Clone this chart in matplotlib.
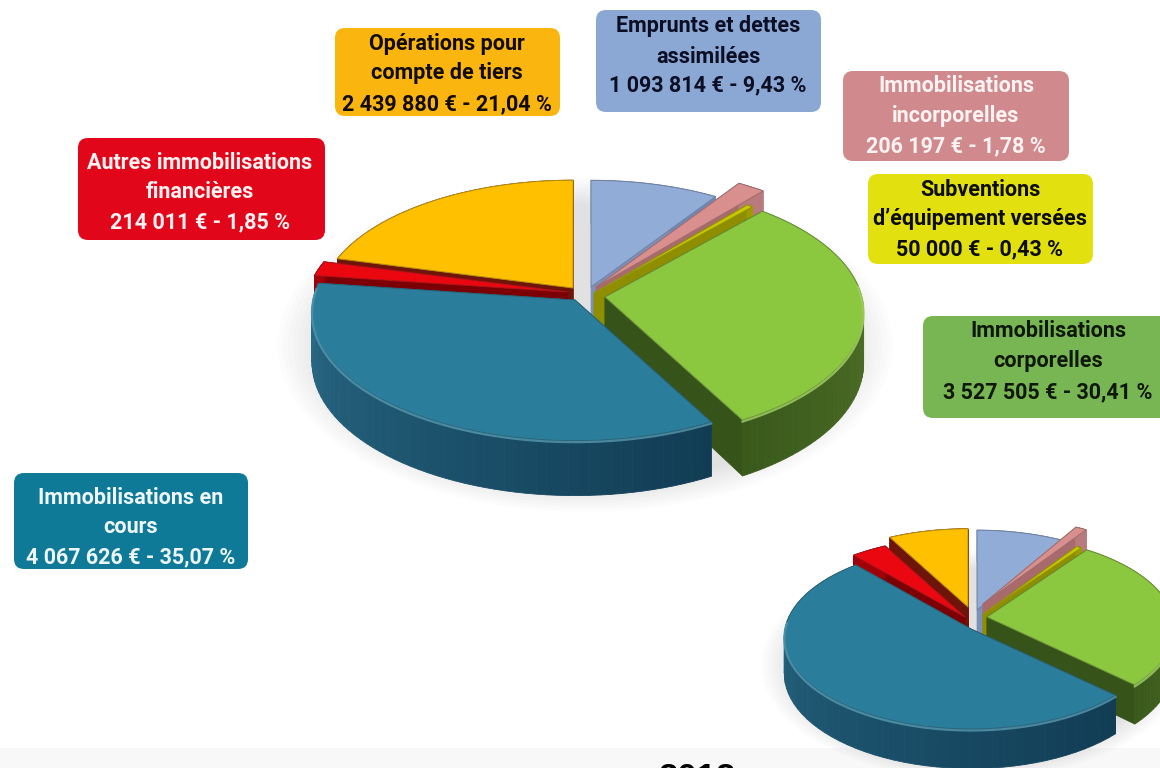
import numpy as np
import matplotlib
matplotlib.use('Agg')
import matplotlib.pyplot as plt
from matplotlib.patches import FancyBboxPatch, Polygon, Ellipse, Rectangle
from matplotlib.colors import to_rgb

# Data, clockwise from 12 o'clock
label_titles = [['Emprunts et dettes', 'assimilées'],
                ['Immobilisations', 'incorporelles'],
                ['Subventions', 'd’équipement versées'],
                ['Immobilisations', 'corporelles'],
                ['Immobilisations en', 'cours'],
                ['Autres immobilisations', 'financières'],
                ['Opérations pour', 'compte de tiers']]
amounts = [1093814, 206197, 50000, 3527505, 4067626, 214011, 2439880]
shares = [9.43, 1.78, 0.43, 30.41, 35.07, 1.85, 21.04]
# second, smaller pie (no labels in the picture, read by eye)
small_shares = [8.5, 1.0, 0.5, 27.0, 51.5, 3.5, 8.0]
year_label = '2012'

# Styles
top_colors = ['#92ACD8', '#D98F8E', '#C8C800', '#8CC740', '#2A7E9C', '#EA0710', '#FFC000']
wall_colors = ['#7C90BC', '#A86A6C', '#8E8E00', '#36541A', '#17506A', '#7A0006', '#6E1408']
side_start = ['#6F89B8', '#B87A7C', '#9C9C00', '#5F8230', '#2A6C88', '#A00008', '#6E1408']
side_end = ['#6F89B8', '#B87A7C', '#9C9C00', '#3A5A1C', '#113C54', '#A00008', '#6E1408']
box_colors = ['#8BA7D3', '#D08A8D', '#E3E010', '#78B653', '#0E7A98', '#E2061A', '#FBB50F']
text_colors = ['#0C0F24', '#FBF3F3', '#0C0C08', '#10180C', '#EEF6F8', '#FDF2F2', '#120C06']

# Layout, in pixels of the 1160x768 picture
draw_order = [6, 0, 1, 2, 3, 5, 4]
main_offsets = [(13, -8), (18, -8), (16, -2), (27, 2), (-3, 5), (-11, -3), (-5, -7)]
main_scales = [0.95, 1.09, 1.0, 0.98, 1.0, 0.99, 0.96]
small_offsets = [(4, -7), (10, -13), (10, -3), (14, 0), (-2, 12), (-8, 0), (-5, -10)]
small_scales = [1.0, 1.1, 1.0, 1.0, 1.0, 1.0, 0.98]
perspective = [0.14, 0.14, 0.14, 0.12, 0.09, 0.14, 0.14]
box_rects = [(596, 10, 821, 112), (843, 71, 1069, 161), (868, 174, 1093, 264),
             (923, 316, 1172, 418), (14, 473, 248, 569), (78, 138, 325, 240),
             (335, 28, 560, 116)]
line_ys = [(26, 57, 85), (86, 116, 146), (190, 219, 249), (331, 361, 392),
           (498, 527, 557), (163, 192, 222), (44, 73, 104)]
line_xs = [708, 956, 980, 1048, 131, 200, 447]


def project(center, rx, ry, k, u, v, z):
    s = 1.0 / (1.0 - k * v)
    return center[0] + rx * u * s, center[1] + ry * v * s + z * s


def mix(c1, c2, t):
    a, b = np.array(to_rgb(c1)), np.array(to_rgb(c2))
    return tuple(a + (b - a) * t)


def draw_pie(ax, values, center, rx, ry, depth, offsets, scales):
    edges = np.radians(np.concatenate([[0], np.cumsum(values)]) * 3.6)
    for i in draw_order:
        c = (center[0] + offsets[i][0], center[1] + offsets[i][1])
        r1, r2, k = rx * scales[i], ry * scales[i], perspective[i]
        a = np.linspace(edges[i], edges[i + 1], 60)
        u, v = np.sin(a), -np.cos(a)
        top = [project(c, r1, r2, k, x, y, 0) for x, y in zip(u, v)]
        low = [project(c, r1, r2, k, x, y, depth) for x, y in zip(u, v)]
        ap_top, ap_low = c, (c[0], c[1] + depth)
        # cut walls
        for t, l in ((top[0], low[0]), (top[-1], low[-1])):
            ax.add_patch(Polygon([ap_top, t, l, ap_low], fc=wall_colors[i], ec=wall_colors[i], lw=0.5, zorder=3))
        # outer side, shaded along the arc
        for j in range(len(a) - 1):
            t = j / (len(a) - 2)
            col = mix(side_end[i], side_start[i], t) if i == 4 else mix(side_start[i], side_end[i], t)
            ax.add_patch(Polygon([top[j], top[j + 1], low[j + 1], low[j]], fc=col, ec=col, lw=0.6, zorder=3))
        ax.add_patch(Polygon([ap_top] + top, fc=top_colors[i], ec=mix(top_colors[i], '#303030', 0.35), lw=0.7,
                             joinstyle='round', zorder=3))
        # light rim on the front edge
        pts = np.array(top)[v > -0.1]
        if len(pts) > 1:
            ax.plot(pts[:, 0], pts[:, 1] + 1.5, color=mix(top_colors[i], '#FFFFFF', 0.2), lw=1.6, alpha=0.8, zorder=3)


def shadow(ax, x, y, w, h):
    for f in np.linspace(1.06, 0.9, 10):
        ax.add_patch(Ellipse((x, y), w * f, h * f, fc='#000000', ec='none', alpha=0.012, zorder=2))


plt.rcParams['font.family'] = ['Roboto', 'Liberation Sans', 'DejaVu Sans']
fig = plt.figure(figsize=(11.6, 7.68), dpi=100)
ax = fig.add_axes([0, 0, 1, 1])
ax.set_xlim(0, 1160)
ax.set_ylim(768, 0)
ax.axis('off')

ax.add_patch(Rectangle((0, 748), 1160, 20, fc='#F8F8F8', ec='none', zorder=1))
ax.text(697, 762, year_label, ha='center', va='top', fontsize=25, fontweight='bold',
        family=['Liberation Sans'], color='#000000', zorder=2)

shadow(ax, 585, 345, 580, 315)
shadow(ax, 973, 665, 400, 215)
draw_pie(ax, shares, (578, 295), 262, 128, 50, main_offsets, main_scales)
draw_pie(ax, small_shares, (973, 617), 186, 91, 36, small_offsets, small_scales)

for i, rect in enumerate(box_rects):
    x0, y0, x1, y1 = rect
    ax.add_patch(FancyBboxPatch((x0 + 9, y0 + 9), x1 - x0 - 18, y1 - y0 - 18, boxstyle='round,pad=9,rounding_size=10',
                                fc=box_colors[i], ec='none', zorder=4, mutation_aspect=1))
    amount = f'{amounts[i]:,}'.replace(',', ' ')
    share = f'{shares[i]:.2f}'.replace('.', ',')
    lines = label_titles[i] + [f'{amount} € - {share} %']
    for txt, y in zip(lines, line_ys[i]):
        ax.text(line_xs[i], y, txt, ha='center', va='center', fontsize=15.5, fontweight='bold',
                color=text_colors[i], zorder=5)

fig.savefig('out.png', dpi=100)
